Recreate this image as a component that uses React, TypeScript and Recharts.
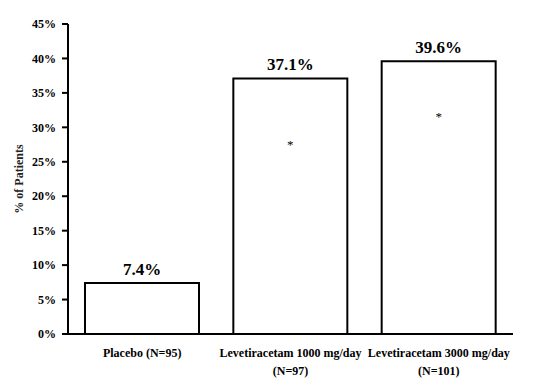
import React from "react";
import {
  ComposedChart,
  Bar,
  XAxis,
  YAxis,
  LabelList,
} from "recharts";

// Responder rates by treatment arm
const categoryLines = [
  ["Placebo (N=95)"],
  ["Levetiracetam 1000 mg/day", "(N=97)"],
  ["Levetiracetam 3000 mg/day", "(N=101)"],
];
const responderRates = [7.4, 37.1, 39.6];
const asteriskLevels = [null, 27.3, 31.3];
const yTicks = [0, 5, 10, 15, 20, 25, 30, 35, 40, 45];

const data = responderRates.map((rate, i) => ({
  name: categoryLines[i].join(" "),
  rate,
  star: asteriskLevels[i],
}));

const font = "'Liberation Serif', 'Times New Roman', serif";

if (typeof document !== "undefined") {
  document.body.style.margin = "0";
}

const XTick = (props: any) => {
  const { x, y, index } = props;
  const lines = categoryLines[index] || [];
  return (
    <text
      x={x}
      y={y}
      textAnchor="middle"
      fontFamily={font}
      fontSize={12}
      fontWeight="bold"
      fill="#000"
    >
      {lines.map((line, i) => (
        <tspan key={i} x={x} dy={i === 0 ? 15 : 18}>
          {line}
        </tspan>
      ))}
    </text>
  );
};

const StarLabel = (props: any) => {
  const { x, y, width, height, index } = props;
  const d = data[index];
  if (!d || d.star == null) return null;
  const cy = y + height * (1 - d.star / d.rate);
  return (
    <text
      x={x + width / 2}
      y={cy}
      textAnchor="middle"
      dominantBaseline="middle"
      fontFamily={font}
      fontSize={13}
      fill="#000"
    >
      *
    </text>
  );
};

const YTitle = (props: any) => {
  const { viewBox } = props;
  const cy = viewBox.y + viewBox.height / 2;
  return (
    <text
      x={20}
      y={cy}
      transform={`rotate(-90, 20, ${cy})`}
      textAnchor="middle"
      dominantBaseline="middle"
      fontFamily={font}
      fontSize={12}
      fontWeight="bold"
      fill="#222"
    >
      % of Patients
    </text>
  );
};

export default function App() {
  return (
    <div style={{ width: 547, height: 381, background: "#fff" }}>
      <ComposedChart
        width={547}
        height={381}
        data={data}
        margin={{ top: 24, right: 34, bottom: 0, left: 0 }}
      >
        <XAxis
          dataKey="name"
          height={47}
          tickLine={false}
          axisLine={{ stroke: "#000", strokeWidth: 2 }}
          tick={<XTick />}
          interval={0}
        />
        <YAxis
          width={68}
          domain={[0, 45]}
          ticks={yTicks}
          interval={0}
          tickFormatter={(v) => `${v}%`}
          tickSize={6}
          tickMargin={6}
          tickLine={{ stroke: "#000", strokeWidth: 2 }}
          axisLine={{ stroke: "#000", strokeWidth: 2 }}
          tick={{
            fill: "#000",
            fontFamily: font,
            fontSize: 12,
            fontWeight: "bold",
          }}
          label={<YTitle />}
        />
        <Bar
          dataKey="rate"
          fill="#fff"
          stroke="#000"
          strokeWidth={2}
          barSize={114}
          isAnimationActive={false}
        >
          <LabelList
            dataKey="rate"
            position="top"
            offset={8}
            formatter={(v: any) => `${Number(v).toFixed(1)}%`}
            style={{
              fill: "#000",
              fontFamily: font,
              fontSize: 17,
              fontWeight: "bold",
            }}
          />
          <LabelList dataKey="star" content={<StarLabel />} />
        </Bar>
      </ComposedChart>
    </div>
  );
}
